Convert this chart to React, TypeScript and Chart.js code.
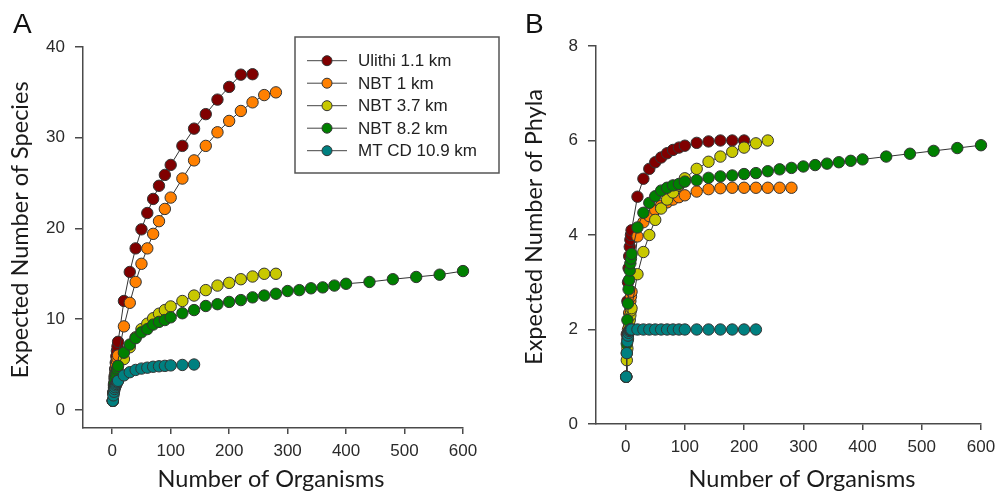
import React, { useEffect, useRef } from "react";
import { Chart, registerables } from "chart.js";

Chart.register(...registerables);

// Sample sizes (number of organisms) at which rarefaction was evaluated
const SAMPLE_SIZES = [
  1, 2, 3, 4, 5, 6, 7, 8, 9, 10, 20, 30, 40, 50, 60, 70, 80, 90, 100, 120, 140,
  160, 180, 200, 220, 240, 260, 280, 300, 320, 340, 360, 380, 400, 440, 480, 520,
  560, 600,
];

const SERIES_LABELS = ["Ulithi 1.1 km", "NBT 1 km", "NBT 3.7 km", "NBT 8.2 km", "MT CD 10.9 km"];
const SERIES_COLORS = ["#800000", "#ff8000", "#c8c800", "#008000", "#008080"];

// Panel A: expected number of species
const SPECIES_ULITHI = [1, 1.95, 2.85, 3.7, 4.5, 5.2, 5.9, 6.5, 7.0, 7.5, 12.0, 15.2, 17.8, 19.9, 21.7, 23.25, 24.7, 25.9, 27.0, 29.1, 31.0, 32.6, 34.2, 35.6, 36.95, 37.0];
const SPECIES_NBT1 = [1, 1.9, 2.7, 3.4, 4.0, 4.5, 5.0, 5.4, 5.7, 6.0, 9.2, 11.8, 14.1, 16.1, 17.8, 19.4, 20.8, 22.15, 23.4, 25.5, 27.5, 29.1, 30.6, 31.85, 32.95, 33.9, 34.7, 35.0];
const SPECIES_NBT37 = [1, 1.8, 2.3, 2.7, 3.0, 3.3, 3.5, 3.7, 3.9, 4.05, 5.6, 6.9, 8.0, 8.9, 9.5, 10.1, 10.6, 11.0, 11.4, 12.0, 12.6, 13.2, 13.7, 14.0, 14.4, 14.7, 15.0, 15.0];
const SPECIES_NBT82 = [1, 1.9, 2.5, 3.0, 3.4, 3.8, 4.1, 4.4, 4.6, 4.85, 6.3, 7.2, 7.9, 8.55, 8.9, 9.4, 9.7, 9.9, 10.2, 10.65, 11.0, 11.45, 11.65, 11.9, 12.1, 12.4, 12.6, 12.8, 13.1, 13.2, 13.4, 13.5, 13.7, 13.9, 14.1, 14.4, 14.65, 14.9, 15.3];
const SPECIES_MTCD = [1.0, 1.6, 2.0, 2.3, 2.5, 2.7, 2.85, 3.0, 3.1, 3.2, 3.8, 4.15, 4.4, 4.55, 4.65, 4.75, 4.8, 4.85, 4.9, 4.95, 5.0];

// Panel B: expected number of phyla
const PHYLA_ULITHI = [1, 1.9, 2.6, 3.0, 3.3, 3.55, 3.75, 3.9, 4.0, 4.1, 4.81, 5.19, 5.4, 5.54, 5.64, 5.73, 5.8, 5.85, 5.89, 5.95, 5.98, 6.0, 6.0, 6.0];
const PHYLA_NBT1 = [1, 1.5, 1.8, 2.0, 2.2, 2.35, 2.5, 2.6, 2.7, 2.8, 3.97, 4.27, 4.4, 4.53, 4.62, 4.69, 4.75, 4.8, 4.84, 4.92, 4.97, 4.99, 5.0, 5.0, 5.0, 5.0, 5.0, 5.0];
const PHYLA_NBT37 = [1, 1.35, 1.6, 1.8, 1.95, 2.1, 2.2, 2.3, 2.4, 2.45, 3.17, 3.64, 4.0, 4.32, 4.56, 4.75, 4.9, 5.05, 5.2, 5.4, 5.55, 5.66, 5.76, 5.85, 5.94, 6.0];
const PHYLA_NBT82 = [1, 1.7, 2.2, 2.55, 2.85, 3.05, 3.25, 3.4, 3.5, 3.6, 4.16, 4.47, 4.68, 4.82, 4.94, 5.0, 5.05, 5.08, 5.13, 5.16, 5.21, 5.24, 5.26, 5.29, 5.31, 5.35, 5.39, 5.42, 5.45, 5.48, 5.51, 5.54, 5.57, 5.6, 5.66, 5.72, 5.78, 5.84, 5.9];
const PHYLA_MTCD = [1.0, 1.5, 1.75, 1.87, 1.93, 1.97, 1.99, 2.0, 2.0, 2.0, 2.0, 2.0, 2.0, 2.0, 2.0, 2.0, 2.0, 2.0, 2.0, 2.0, 2.0, 2.0, 2.0, 2.0, 2.0];

const X_TICKS = [0, 100, 200, 300, 400, 500, 600];
const Y_TICKS_A = [0, 10, 20, 30, 40];
const Y_TICKS_B = [0, 2, 4, 6, 8];

const TICK_FONT = { family: "'Liberation Sans', Arial, sans-serif", size: 17 };
const TITLE_FAMILY = "Lato, 'Liberation Sans', sans-serif";
const AXIS_COLOR = "#4a4a4a";

const decorPlugin = {
  id: "decor",
  afterDraw(chart: any, _args: any, opts: any) {
    const ctx = chart.ctx;
    ctx.save();
    // panel letter
    ctx.fillStyle = "#111";
    ctx.font = `28px 'Liberation Sans', Arial, sans-serif`;
    ctx.textAlign = "left";
    ctx.textBaseline = "alphabetic";
    ctx.fillText(opts.letter, opts.letterX, opts.letterY);
    // axis titles
    ctx.fillStyle = "#1a1a1a";
    ctx.font = `${opts.titleSize}px ${TITLE_FAMILY}`;
    ctx.textAlign = "center";
    ctx.fillText(opts.xTitle, opts.xTitleX, opts.xTitleY);
    ctx.translate(opts.yTitleX, opts.yTitleY);
    ctx.rotate(-Math.PI / 2);
    ctx.fillText(opts.yTitle, 0, 0);
    ctx.restore();

    if (opts.legend) {
      const L = opts.legend;
      ctx.save();
      ctx.strokeStyle = "#555";
      ctx.lineWidth = 1.5;
      ctx.strokeRect(L.x, L.y, L.w, L.h);
      ctx.font = `17px 'Liberation Sans', Arial, sans-serif`;
      ctx.textAlign = "left";
      ctx.textBaseline = "middle";
      chart.data.datasets
        .slice()
        .sort((a: any, b: any) => a.legendIndex - b.legendIndex)
        .forEach((ds: any, i: number) => {
          const cy = L.firstRowY + i * L.rowGap;
          ctx.strokeStyle = "#444";
          ctx.lineWidth = 1;
          ctx.beginPath();
          ctx.moveTo(L.lineX0, cy);
          ctx.lineTo(L.lineX1, cy);
          ctx.stroke();
          ctx.beginPath();
          ctx.arc((L.lineX0 + L.lineX1) / 2, cy, 5, 0, Math.PI * 2);
          ctx.fillStyle = ds.pointBackgroundColor;
          ctx.fill();
          ctx.strokeStyle = "#333";
          ctx.stroke();
          ctx.fillStyle = "#222";
          ctx.fillText(ds.label, L.textX, cy + 1);
        });
      ctx.restore();
    }
  },
};

function makeDatasets(seriesValues: number[][]) {
  return seriesValues.map((vals, i) => ({
    label: SERIES_LABELS[i],
    legendIndex: i,
    data: vals.map((v, j) => ({ x: SAMPLE_SIZES[j], y: v })),
    showLine: true,
    borderColor: "#333",
    borderWidth: 1,
    pointRadius: 5.7,
    pointBorderWidth: 1,
    pointBorderColor: "#333",
    pointBackgroundColor: SERIES_COLORS[i],
    order: seriesValues.length - i,
    clip: false,
  }));
}

function axis(min: number, max: number, ticks: number[], fitSize: number, horizontal: boolean, pad: number) {
  return {
    type: "linear",
    min,
    max,
    afterBuildTicks: (s: any) => {
      s.ticks = ticks.map((v) => ({ value: v }));
    },
    afterFit: (s: any) => {
      if (horizontal) {
        s.height = fitSize;
        s.paddingLeft = 0;
        s.paddingRight = 0;
      } else {
        s.width = fitSize;
        s.paddingTop = 0;
        s.paddingBottom = 0;
      }
    },
    grid: {
      display: true,
      drawOnChartArea: false,
      drawTicks: true,
      tickLength: horizontal ? 6 : 8,
      color: AXIS_COLOR,
      lineWidth: 1.5,
    },
    border: { display: true, color: AXIS_COLOR, width: 1.5 },
    ticks: {
      font: TICK_FONT,
      color: "#2a2a2a",
      padding: pad,
      maxRotation: 0,
      autoSkip: false,
      callback: (v: any) => String(v),
    },
    title: { display: false },
  };
}

function Panel(props: { cfg: any; width: number; left: number }) {
  const ref = useRef<HTMLCanvasElement | null>(null);
  useEffect(() => {
    if (!ref.current) return;
    const chart = new Chart(ref.current, props.cfg);
    return () => chart.destroy();
  }, []);
  return (
    <canvas
      ref={ref}
      width={props.width}
      height={494}
      style={{ position: "absolute", left: props.left, top: 0, width: props.width, height: 494 }}
    />
  );
}

export default function App() {
  const cfgA = {
    type: "scatter",
    data: { datasets: makeDatasets([SPECIES_ULITHI, SPECIES_NBT1, SPECIES_NBT37, SPECIES_NBT82, SPECIES_MTCD]) },
    options: {
      responsive: false,
      animation: false,
      layout: { padding: { top: 47, right: 37, bottom: 0, left: 0 } },
      scales: {
        x: axis(-50, 600, X_TICKS, 66, true, 7),
        y: axis(-2, 40, Y_TICKS_A, 83, false, 10),
      },
      plugins: {
        legend: { display: false },
        tooltip: { enabled: false },
        decor: {
          letter: "A",
          letterX: 13,
          letterY: 33,
          titleSize: 23.5,
          xTitle: "Number of Organisms",
          xTitleX: 271,
          xTitleY: 487,
          yTitle: "Expected Number of Species",
          yTitleX: 28,
          yTitleY: 230,
          legend: { x: 295, y: 37, w: 204, h: 136, firstRowY: 60.7, rowGap: 22.5, lineX0: 307, lineX1: 347, textX: 358 },
        },
      },
    },
    plugins: [decorPlugin],
  };
  const cfgB = {
    type: "scatter",
    data: { datasets: makeDatasets([PHYLA_ULITHI, PHYLA_NBT1, PHYLA_NBT37, PHYLA_NBT82, PHYLA_MTCD]) },
    options: {
      responsive: false,
      animation: false,
      layout: { padding: { top: 46, right: 15, bottom: 0, left: 0 } },
      scales: {
        x: axis(-50, 600, X_TICKS, 70, true, 7),
        y: axis(0, 8, Y_TICKS_B, 96, false, 10),
      },
      plugins: {
        legend: { display: false },
        tooltip: { enabled: false },
        decor: {
          letter: "B",
          letterX: 25,
          letterY: 33,
          titleSize: 23.5,
          xTitle: "Number of Organisms",
          xTitleX: 302,
          xTitleY: 487,
          yTitle: "Expected Number of Phyla",
          yTitleX: 42,
          yTitleY: 227,
          legend: null,
        },
      },
    },
    plugins: [decorPlugin],
  };
  return (
    <div style={{ position: "fixed", left: 0, top: 0, width: 996, height: 494, background: "#fff" }}>
      <Panel cfg={cfgA} width={500} left={0} />
      <Panel cfg={cfgB} width={496} left={500} />
    </div>
  );
}
